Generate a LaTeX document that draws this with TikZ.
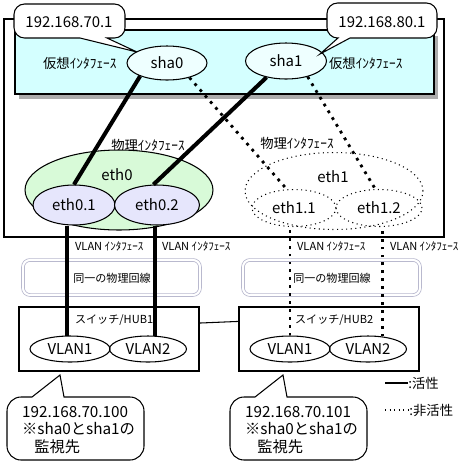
\documentclass[tikz,border=0pt]{standalone}
\usepackage{fontspec}
\setmainfont{Noto Sans CJK JP}
\usetikzlibrary{shapes.geometric}
\definecolor{virtbg}{RGB}{212,255,255}
\definecolor{virtfill}{RGB}{238,255,255}
\definecolor{physfill}{RGB}{216,250,216}
\definecolor{vlanfill}{RGB}{230,230,252}
\definecolor{cablegray}{RGB}{175,175,200}
\tikzset{every node/.style={font=\fontsize{8.5}{10}\selectfont, inner sep=1pt},
 ifnode/.style={ellipse, draw, line width=0.6pt, inner sep=0pt},
 idle/.style={ellipse, draw, dotted, line width=0.6pt, inner sep=0pt},
 tag/.style={font=\fontsize{7.6}{9}\selectfont},
 small/.style={font=\fontsize{6.3}{8}\selectfont},
 active/.style={line width=2.3pt},
 standby/.style={line width=1.6pt, dash pattern=on 1.6pt off 2.9pt},
 box/.style={draw, line width=0.6pt},
 bubble/.style={draw, fill=white, line width=0.6pt},
 cable/.style={draw=cablegray, double=white, double distance=1.2pt,
   line width=0.4pt, rounded corners=4pt},
}

\begin{document}
\begin{tikzpicture}[x=0.02cm, y=-0.02cm]
\useasboundingbox (0,0) rectangle (473,464);
% server
\draw[box] (4,19) rectangle (444,237);
\fill[gray!65] (19,36) rectangle (438,99);
\draw[box, fill=virtbg] (15,30) rectangle (434,94);
\node[tag, anchor=west] (virtA) at (41,63) {仮想ｲﾝﾀﾌｪｰｽ};
\node[tag, anchor=west] (virtB) at (327,63) {仮想ｲﾝﾀﾌｪｰｽ};
\node[ifnode, fill=virtfill, minimum width=1.6cm, minimum height=0.68cm] (sha0) at (167,63) {sha0};
\node[ifnode, fill=virtfill, minimum width=1.62cm, minimum height=0.72cm] (sha1) at (286,61) {sha1};
% physical interfaces
\node[tag] (physA) at (148,145) {物理ｲﾝﾀﾌｪｰｽ};
\node[tag] (physB) at (297,143) {物理ｲﾝﾀﾌｪｰｽ};
\node[ifnode, fill=physfill, minimum width=3.76cm, minimum height=1.6cm] (eth0) at (119,190) {};
\node (eth0txt) at (117,175) {eth0};
\node[ifnode, fill=vlanfill, minimum width=1.64cm, minimum height=0.8cm] (eth01) at (74,205) {eth0.1};
\node[ifnode, fill=vlanfill, minimum width=1.7cm, minimum height=0.8cm] (eth02) at (157,205) {eth0.2};
\node[idle, minimum width=3.56cm, minimum height=1.54cm] (eth1) at (334,191) {};
\node (eth1txt) at (333,177) {eth1};
\node[idle, minimum width=1.68cm, minimum height=0.74cm] (eth11) at (294,208) {eth1.1};
\node[idle, minimum width=1.72cm, minimum height=0.74cm] (eth12) at (379,208) {eth1.2};
\draw[active] (sha0.206) -- (eth01.north);
\draw[active] (sha1.220) -- (eth02.100);
\draw[standby] (sha0.327) -- (eth11.111);
\draw[standby] (sha1.324) -- (eth12.101);
% lines and switches
\foreach \dx/\n/\h in {0/A/1, 220/B/2} {
  \draw[cable] (23+\dx,260) rectangle (200+\dx,295);
  \node[small] (wire\n) at (112+\dx,278) {同一の物理回線};
  \node[box, minimum width=3.6cm, minimum height=1.28cm] (hub\n) at (109+\dx,339) {};
  \node[small, anchor=west] (hub\n txt) at (73+\dx,320) {スイッチ/HUB\h};
  \node[ifnode, minimum width=1.6cm, minimum height=0.52cm] (vlan\n1) at (70+\dx,349) {VLAN1};
  \node[ifnode, minimum width=1.54cm, minimum height=0.52cm] (vlan\n2) at (148+\dx,349) {VLAN2};
}
\draw[box] (hubA.10.7) -- (hubB.169);
\draw[active] (vlanA1.103) -- (vlanA1.103 |- eth01.south);
\draw[active] (vlanA2.61) -- (vlanA2.61 |- eth02.south);
\draw[standby] (vlanB1.north) -- (vlanB1.north |- eth11.south);
\draw[standby] (vlanB2.41) -- (vlanB2.41 |- eth12.south);
\foreach \x [count=\i] in {73,160,295,388}
  \node[small, anchor=west] (vif\i) at (\x,246) {VLAN ｲﾝﾀﾌｪｰｽ};
% callouts
\draw[bubble] (107,38) [rounded corners=6pt] -- (125,38) -- (125,4) -- (14,4) -- (14,38)
  [sharp corners] -- (80,38) -- (137,52) -- cycle;
\node (ipA) at (69,22) {192.168.70.1};
\draw[bubble] (350,38) [rounded corners=6pt] -- (437,38) -- (437,3) -- (327,3) -- (327,38)
  [sharp corners] -- (338,38) -- (320,54) -- cycle;
\node (ipB) at (382,22) {192.168.80.1};
\foreach \dx/\ip in {0/100, 223/101} {
  \draw[bubble] (32+\dx,397) [rounded corners=8pt] -- (7+\dx,397) -- (7+\dx,460) -- (144+\dx,460)
    -- (144+\dx,397) [sharp corners] -- (64+\dx,397) -- (60+\dx,375) -- cycle;
  \node[anchor=west, align=left, font=\fontsize{8.7}{10}\selectfont] (mon\ip) at (20+\dx,430)
    {192.168.70.\ip\\※sha0とsha1の\\\hspace*{0.8em}監視先};
}
% legend
\coordinate (keyA) at (385,383);
\coordinate (keyB) at (385,410);
\node[tag, anchor=west, inner sep=0pt] (actTxt) at (408,383) {:活性};
\node[tag, anchor=west, inner sep=0pt] (idleTxt) at (409,410) {:非活性};
\draw[line width=1.4pt] (keyA) -- (actTxt.west);
\draw[dotted, line width=0.6pt] (keyB) -- (idleTxt.west);
\end{tikzpicture}
\end{document}
